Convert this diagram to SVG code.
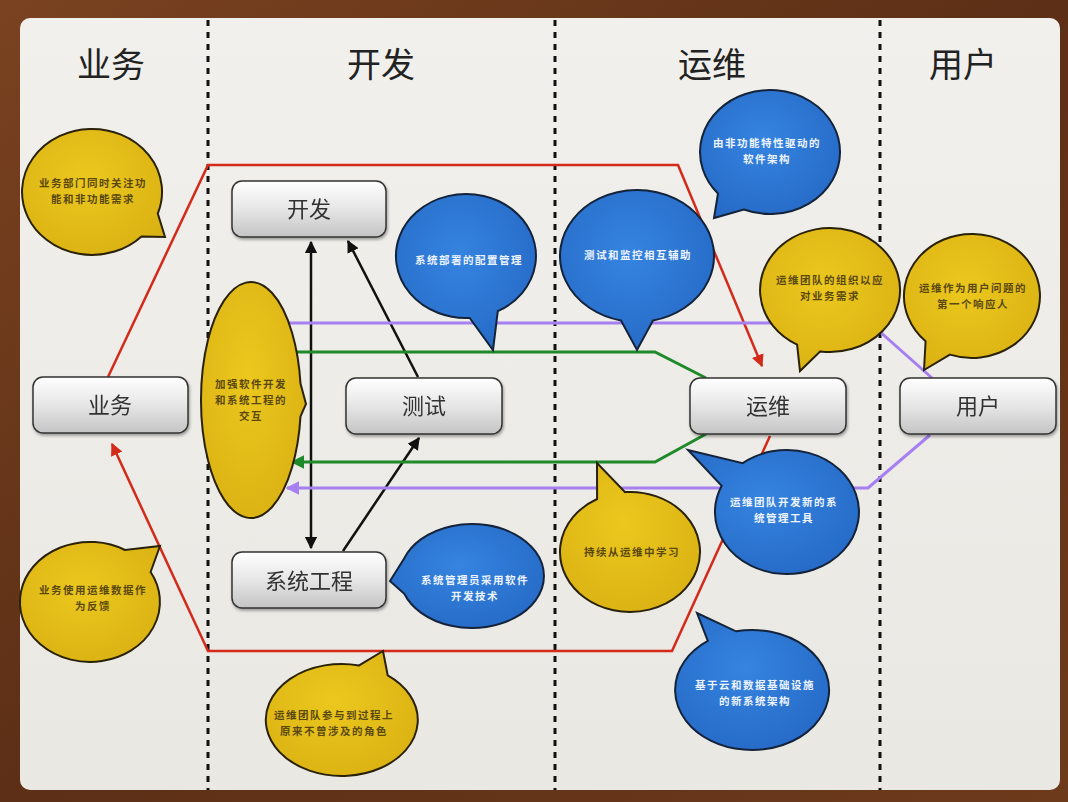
<svg xmlns="http://www.w3.org/2000/svg" width="1068" height="802" viewBox="0 0 1068 802">
<defs>
<linearGradient id="wood" x1="0" y1="0" x2="1" y2="1">
<stop offset="0" stop-color="#7a4220"/><stop offset="0.5" stop-color="#5c2f16"/><stop offset="1" stop-color="#6e3a1c"/>
</linearGradient>
<linearGradient id="panel" x1="0" y1="0" x2="0" y2="1">
<stop offset="0" stop-color="#f1f0ec"/><stop offset="1" stop-color="#e9e8e3"/>
</linearGradient>
<linearGradient id="box" x1="0" y1="0" x2="0" y2="1">
<stop offset="0" stop-color="#ffffff"/><stop offset="0.5" stop-color="#e6e6e6"/><stop offset="1" stop-color="#c4c4c4"/>
</linearGradient>
<radialGradient id="yel" cx="0.45" cy="0.4" r="0.7">
<stop offset="0" stop-color="#ecc81e"/><stop offset="1" stop-color="#d9b012"/>
</radialGradient>
<radialGradient id="blu" cx="0.45" cy="0.4" r="0.7">
<stop offset="0" stop-color="#3584e0"/><stop offset="1" stop-color="#2468c4"/>
</radialGradient>
<filter id="sh" x="-20%" y="-20%" width="140%" height="150%">
<feDropShadow dx="1" dy="2" stdDeviation="1.5" flood-color="#000" flood-opacity="0.35"/>
</filter>
<marker id="ar" viewBox="0 0 10 10" refX="9" refY="5" markerWidth="5" markerHeight="5" orient="auto-start-reverse">
<path d="M0,0 L10,5 L0,10 z" fill="#d42a1a"/>
</marker>
<marker id="ab" viewBox="0 0 10 10" refX="9" refY="5" markerWidth="5" markerHeight="5" orient="auto-start-reverse">
<path d="M0,0 L10,5 L0,10 z" fill="#111"/>
</marker>
<marker id="ap" viewBox="0 0 10 10" refX="9" refY="5" markerWidth="4.5" markerHeight="4.5" orient="auto-start-reverse">
<path d="M0,0 L10,5 L0,10 z" fill="#a67ff0"/>
</marker>
<marker id="ag" viewBox="0 0 10 10" refX="9" refY="5" markerWidth="4.5" markerHeight="4.5" orient="auto-start-reverse">
<path d="M0,0 L10,5 L0,10 z" fill="#1e8a2a"/>
</marker>
</defs>
<style>
.hdr{font-family:"Noto Sans CJK SC","Noto Sans",sans-serif;font-size:34px;fill:#222;text-anchor:middle}
.nb rect{fill:url(#box);stroke:#333;stroke-width:1.5}
.nb text{font-family:"Noto Sans CJK SC","Noto Sans",sans-serif;font-size:22px;fill:#333;text-anchor:middle}
.by path{fill:url(#yel);stroke:#2a2208;stroke-width:2}
.bb path{fill:url(#blu);stroke:#14233a;stroke-width:2}
.by text{font-family:"Noto Sans CJK SC","Noto Sans",sans-serif;font-size:10.5px;letter-spacing:1.5px;fill:#5a4812;text-anchor:middle;font-weight:bold}
.bb text{font-family:"Noto Sans CJK SC","Noto Sans",sans-serif;font-size:10.5px;letter-spacing:1.5px;fill:#eef4ff;text-anchor:middle;font-weight:bold}
.dash{stroke:#111;stroke-width:3;stroke-dasharray:6 6}
.red{fill:none;stroke:#d42a1a;stroke-width:2.5}
.blk{fill:none;stroke:#111;stroke-width:2.5}
.pur{fill:none;stroke:#a67ff0;stroke-width:3}
.grn{fill:none;stroke:#1e8a2a;stroke-width:3}
</style>
<rect x="0" y="0" width="1068" height="802" fill="url(#wood)"/>
<rect x="20" y="18" width="1040" height="772" rx="10" fill="url(#panel)"/>
<line class="dash" x1="208" y1="20" x2="208" y2="790"/>
<line class="dash" x1="555" y1="20" x2="555" y2="790"/>
<line class="dash" x1="880" y1="20" x2="880" y2="790"/>
<text class="hdr" x="111" y="77">业务</text>
<text class="hdr" x="381" y="77">开发</text>
<text class="hdr" x="712" y="77">运维</text>
<text class="hdr" x="963" y="77">用户</text>

<g id="connectors">
<path class="red" d="M108,377 L208,165 L678,165 L762,366" marker-end="url(#ar)"/>
<path class="red" d="M770,436 L672,651 L208,651 L112,444" marker-end="url(#ar)"/>
<line class="blk" x1="311" y1="242" x2="311" y2="548" marker-start="url(#ab)" marker-end="url(#ab)"/>
<line class="blk" x1="418" y1="377" x2="348" y2="241" marker-end="url(#ab)"/>
<line class="blk" x1="343" y1="551" x2="419" y2="438" marker-end="url(#ab)"/>
<path class="pur" d="M289,323 L870,323 L932,378"/>
<path class="pur" d="M930,435 L868,488 L287,488" marker-end="url(#ap)"/>
<path class="grn" d="M297,352 L655,352 L706,378"/>
<path class="grn" d="M706,434 L655,462 L292,462" marker-end="url(#ag)"/>
</g>

<g id="n-yewu" class="nb" filter="url(#sh)"><rect x="33" y="377" width="155" height="56" rx="10"/><text x="110" y="413">业务</text></g>
<g id="n-kaifa" class="nb" filter="url(#sh)"><rect x="232" y="181" width="154" height="56" rx="10"/><text x="309" y="217">开发</text></g>
<g id="n-ceshi" class="nb" filter="url(#sh)"><rect x="346" y="378" width="156" height="56" rx="10"/><text x="424" y="414">测试</text></g>
<g id="n-yunwei" class="nb" filter="url(#sh)"><rect x="690" y="378" width="156" height="56" rx="10"/><text x="768" y="414">运维</text></g>
<g id="n-yonghu" class="nb" filter="url(#sh)"><rect x="900" y="378" width="156" height="56" rx="10"/><text x="978" y="414">用户</text></g>
<g id="n-xitong" class="nb" filter="url(#sh)"><rect x="232" y="552" width="154" height="56" rx="10"/><text x="309" y="589">系统工程</text></g>

<g id="b1" class="by"><path d="M157.8,213.5 A70,63 0 1 0 141.5,236.5 L165,237 Z"/><text x="93" y="187">业务部门同时关注功</text><text x="93" y="203">能和非功能需求</text></g>
<g id="b2" class="by"><path d="M125,550 A70,60 0 1 0 150.6,572 L160,546 Z"/><text x="93" y="594">业务使用运维数据作</text><text x="93" y="610">为反馈</text></g>
<g id="b3" class="by"><path d="M300.5,383.6 A50,118 0 1 0 300.5,416.4 L306,404 Z"/><text x="251" y="388">加强软件开发</text><text x="251" y="404">和系统工程的</text><text x="251" y="420">交互</text></g>
<g id="b4" class="bb"><path d="M497.8,311.2 A70,62 0 1 0 469.7,317.9 L493,350 Z"/><text x="469" y="264">系统部署的配置管理</text></g>
<g id="b5" class="bb"><path d="M653,320.5 A77,66 0 1 0 621,320.5 L637,350 Z"/><text x="638" y="259">测试和监控相互辅助</text></g>
<g id="b6" class="bb"><path d="M743.8,209.5 A70,62 0 1 0 718,193.5 L714,218 Z"/><text x="767" y="147">由非功能特性驱动的</text><text x="767" y="163">软件架构</text></g>
<g id="b7" class="by"><path d="M820.3,351.4 A70,62 0 1 0 797.1,344.7 L800,371 Z"/><text x="830" y="284">运维团队的组织以应</text><text x="830" y="300">对业务需求</text></g>
<g id="b8" class="by"><path d="M949.9,354.6 A68,62 0 1 0 925.6,341.3 L924,370 Z"/><text x="973" y="292">运维作为用户问题的</text><text x="973" y="308">第一个响应人</text></g>
<g id="b9" class="bb"><path d="M721.7,485.8 A72,62 0 1 0 742.7,463.1 L688,450 Z"/><text x="784" y="506">运维团队开发新的系</text><text x="784" y="522">统管理工具</text></g>
<g id="b10" class="by"><path d="M597.1,499 A70,60 0 1 0 625.1,492.1 L597,463 Z"/><text x="632" y="556">持续从运维中学习</text></g>
<g id="b11" class="bb"><path d="M404.3,593.8 A72,52 0 1 0 404.3,558.2 L390,581 Z"/><text x="475" y="584">系统管理员采用软件</text><text x="475" y="600">开发技术</text></g>
<g id="b12" class="bb"><path d="M707.8,640.9 A77,60 0 1 0 736,631.3 L697,613 Z"/><text x="755" y="689">基于云和数据基础设施</text><text x="755" y="705">的新系统架构</text></g>
<g id="b13" class="by"><path d="M359.1,665.4 A76,56 0 1 0 387.7,675.3 L383,651 Z"/><text x="334" y="719">运维团队参与到过程上</text><text x="334" y="735">原来不曾涉及的角色</text></g>
</svg>
